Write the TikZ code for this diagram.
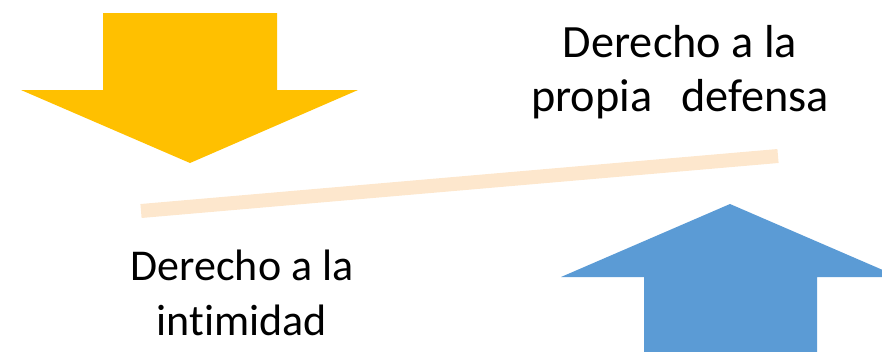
\documentclass[tikz,border=0pt]{standalone}
\usepackage{fontspec}
\setmainfont[Ligatures=NoCommon]{Carlito}
\definecolor{arrowyellow}{HTML}{FFC000}
\definecolor{arrowblue}{HTML}{5B9BD5}
\definecolor{beamcol}{HTML}{FDE7CD}
\begin{document}
\begin{tikzpicture}[x=0.75pt,y=-0.75pt,
  label text/.style={align=center,inner sep=0pt,anchor=base}]
\useasboundingbox (0,0) rectangle (882,351);
% yellow down arrow
\fill[arrowyellow] (103,13) -- (277,13) -- (277,90) -- (358,90) -- (190,163) -- (21,90) -- (103,90) -- cycle;
% blue up arrow
\fill[arrowblue] (644,380) -- (644,277) -- (561,277) -- (730,204) -- (899,277) -- (817,277) -- (817,380) -- cycle;
% beam
\coordinate (bl) at (141,211);
\coordinate (br) at (778,156);
\draw[beamcol,line width=10.5pt] (bl) -- (br);
% texts
\node[label text,font=\fontsize{34.7}{40.5}\selectfont] (right) at (680,111) {Derecho a la\\propia\hspace{0.63em}defensa};
\node[label text,font=\fontsize{33}{41.25}\selectfont] (left) at (242,335) {Derecho a la\\intimidad};
\end{tikzpicture}
\end{document}
